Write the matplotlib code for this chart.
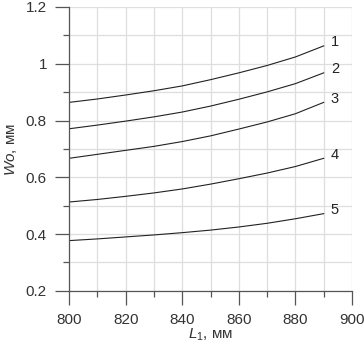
import matplotlib
matplotlib.use("Agg")
import matplotlib.pyplot as plt
from matplotlib.ticker import MultipleLocator

plt.rcParams["font.family"] = ["Liberation Sans", "DejaVu Sans"]
plt.rcParams["mathtext.fontset"] = "custom"
plt.rcParams["mathtext.rm"] = "Liberation Sans"
plt.rcParams["mathtext.it"] = "Liberation Sans:italic"

# L1, mm
l1 = [800, 810, 820, 830, 840, 850, 860, 870, 880, 890]
# Wo, mm for curves 1..5
wo_1 = [0.864, 0.876, 0.890, 0.905, 0.922, 0.944, 0.968, 0.994, 1.024, 1.063]
wo_2 = [0.771, 0.784, 0.798, 0.813, 0.830, 0.851, 0.875, 0.901, 0.930, 0.968]
wo_3 = [0.667, 0.681, 0.695, 0.709, 0.726, 0.746, 0.770, 0.795, 0.824, 0.864]
wo_4 = [0.513, 0.522, 0.533, 0.545, 0.559, 0.576, 0.595, 0.615, 0.638, 0.667]
wo_5 = [0.377, 0.383, 0.390, 0.397, 0.405, 0.414, 0.425, 0.438, 0.454, 0.472]
curve_labels = ["1", "2", "3", "4", "5"]

fig = plt.figure(figsize=(3.64, 3.50), dpi=100)
ax = fig.add_axes([0.19, 0.169, 0.777, 0.811])

for label, series in zip(curve_labels, [wo_1, wo_2, wo_3, wo_4, wo_5]):
    ax.plot(l1, series, color="#222222", linewidth=0.8)
    ax.text(l1[-1] + 2.5, series[-1] + 0.012, label, fontsize=10.5,
            ha="left", va="center", color="#222222")

ax.set_xlim(800, 900)
ax.set_ylim(0.2, 1.2)
ax.xaxis.set_major_locator(MultipleLocator(20))
ax.xaxis.set_minor_locator(MultipleLocator(10))
ax.yaxis.set_major_locator(MultipleLocator(0.2))
ax.yaxis.set_minor_locator(MultipleLocator(0.1))
ax.yaxis.set_major_formatter(plt.FuncFormatter(lambda v, _: f"{v:g}"))

ax.grid(which="both", color="#dedede", linewidth=0.9)
ax.set_axisbelow(True)
for side in ("top", "right"):
    ax.spines[side].set_visible(False)
for side in ("left", "bottom"):
    ax.spines[side].set_color("#555555")
    ax.spines[side].set_linewidth(0.9)

ax.tick_params(which="major", length=10, width=0.9, color="#555555",
               labelsize=11, labelcolor="#333333", pad=6)
ax.tick_params(which="minor", length=4, width=0.9, color="#555555")

ax.set_xlabel("$L_1$, мм", fontsize=11, color="#333333", labelpad=0)
ax.set_ylabel("$Wo$, мм", fontsize=11, color="#333333", labelpad=5)

fig.savefig("out.png", dpi=100)
